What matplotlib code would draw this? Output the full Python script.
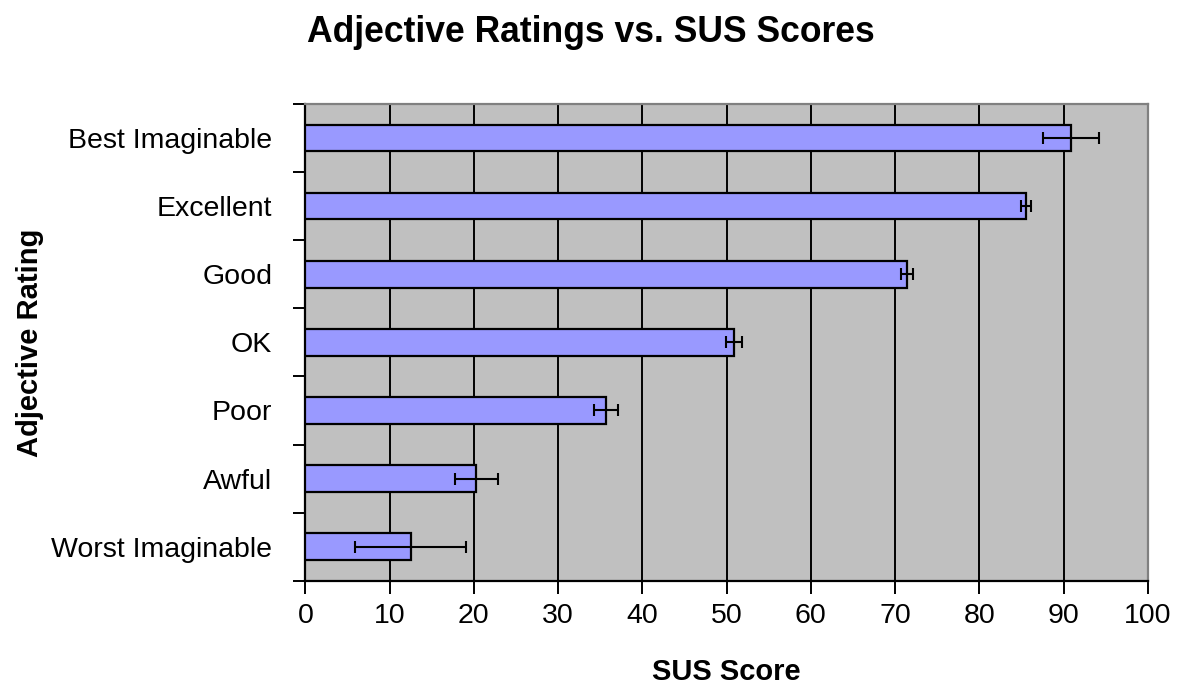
import numpy as np
import matplotlib.pyplot as plt

# ---- data: mean SUS score per adjective rating, with error bar half-widths
ratings = ['Worst Imaginable', 'Awful', 'Poor', 'OK', 'Good', 'Excellent',
           'Best Imaginable']
sus_mean = [12.5, 20.3, 35.7, 50.9, 71.4, 85.5, 90.9]
sus_err = [6.6, 2.5, 1.45, 0.95, 0.7, 0.6, 3.3]
xticks = [0, 10, 20, 30, 40, 50, 60, 70, 80, 90, 100]

plt.rcParams['font.family'] = ['Liberation Sans', 'DejaVu Sans']

fig = plt.figure(figsize=(11.79, 6.89), dpi=100)
ax = fig.add_axes([0.2591, 0.1572, 0.7144, 0.6918])
ax.set_facecolor('#c0c0c0')

ypos = np.arange(len(ratings))
ax.barh(ypos, sus_mean, height=0.39, color='#9999ff', edgecolor='black',
        linewidth=1.6, zorder=3)
ax.errorbar(sus_mean, ypos, xerr=sus_err, fmt='none', ecolor='black',
            elinewidth=1.5, capsize=4.5, capthick=1.5, zorder=4)

# vertical gridlines every 10
for x in xticks[1:-1]:
    ax.axvline(x, color='black', linewidth=1.4, zorder=1)

ax.set_xlim(0, 100)
ax.set_ylim(-0.5, len(ratings) - 0.5)
ax.set_xticks(xticks)
ax.set_xticklabels([str(v) for v in xticks], fontsize=20.5)

# category labels centred on bars, tick marks on the category boundaries
ax.set_yticks(np.arange(-0.5, len(ratings), 1.0))
ax.set_yticklabels([])
ax.set_yticks(ypos, minor=True)
ax.set_yticklabels(ratings, minor=True, fontsize=20.5)
ax.tick_params(axis='y', which='minor', length=0, pad=24)
ax.tick_params(axis='y', which='major', length=9, width=1.4, direction='out')
ax.tick_params(axis='x', length=9, width=1.4, direction='out', pad=7)

for side in ('left', 'bottom'):
    ax.spines[side].set_color('black')
    ax.spines[side].set_linewidth(1.6)
for side in ('top', 'right'):
    ax.spines[side].set_color('#808080')
    ax.spines[side].set_linewidth(1.6)

ax.set_xlabel('SUS Score', fontsize=21, fontweight='bold', labelpad=21)
ax.set_ylabel('Adjective Rating', fontsize=21, fontweight='bold', labelpad=5)
fig.text(0.501, 0.953, 'Adjective Ratings vs. SUS Scores', fontsize=25.6,
         fontweight='bold', ha='center', va='center')

fig.savefig('out.png', dpi=100)
